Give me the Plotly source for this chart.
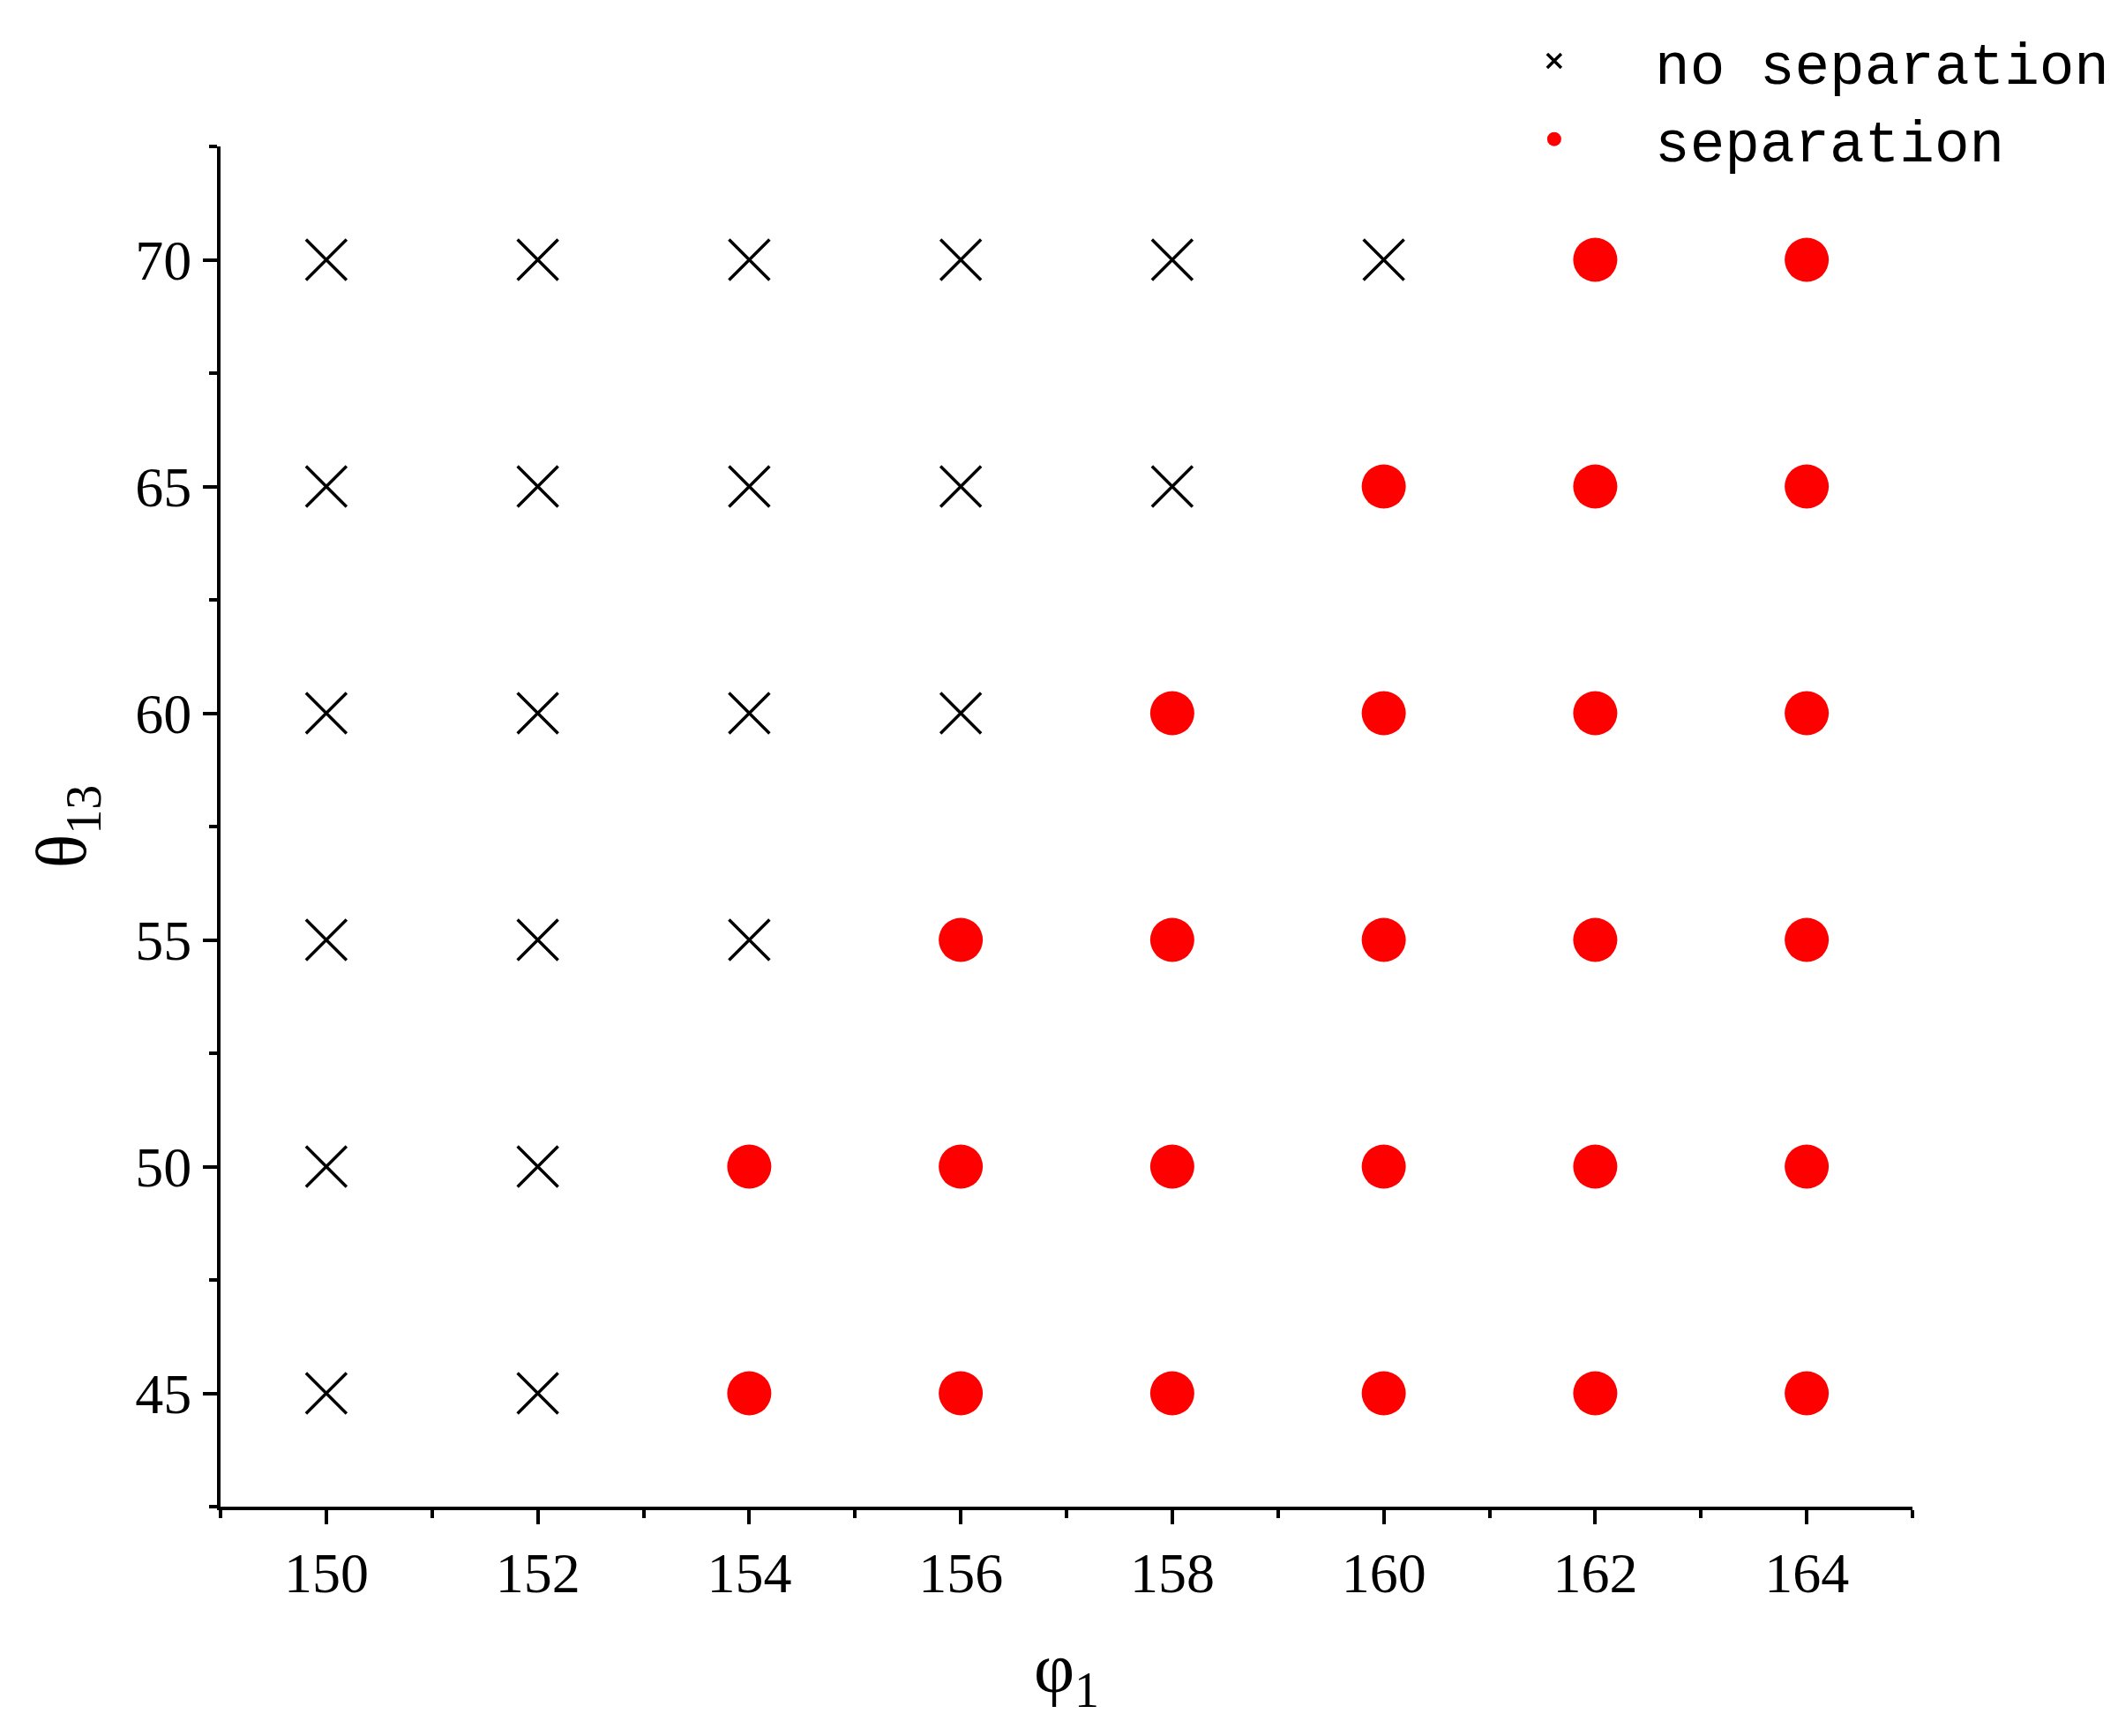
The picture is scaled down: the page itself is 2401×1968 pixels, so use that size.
import plotly.graph_objects as go

phi = [150, 152, 154, 156, 158, 160, 162, 164]
theta = [45, 50, 55, 60, 65, 70]
# smallest phi at which separation occurs, per theta row
first_sep = {45: 154, 50: 154, 55: 156, 60: 158, 65: 160, 70: 162}

nx, ny, sx, sy = [], [], [], []
for t in theta:
    for p in phi:
        if p >= first_sep[t]:
            sx.append(p); sy.append(t)
        else:
            nx.append(p); ny.append(t)

fig = go.Figure()
fig.add_trace(go.Scatter(x=nx, y=ny, mode="markers", name="  no separation",
                         marker=dict(symbol="x-thin-open", size=46, color="black",
                                     line=dict(width=3.5, color="black"))))
fig.add_trace(go.Scatter(x=sx, y=sy, mode="markers", name="  separation",
                         marker=dict(symbol="circle", size=50, color="red")))

axis_common = dict(showline=True, linecolor="black", linewidth=4, ticks="outside",
                   ticklen=16, tickwidth=4, tickcolor="black", showgrid=False,
                   zeroline=False, mirror=False,
                   tickfont=dict(family="Liberation Serif", size=64, color="black"),
                   minor=dict(ticks="outside", ticklen=9, tickwidth=4, tickcolor="black"))

fig.update_xaxes(range=[149, 165], tickvals=phi, minor_dtick=1,
                 title=dict(text="φ<sub>1</sub>", standoff=45,
                            font=dict(family="Liberation Serif", size=80, color="black")),
                 **axis_common)
fig.update_yaxes(range=[42.5, 72.5], tickvals=theta, minor_dtick=2.5,
                 title=dict(text="θ<sub>13</sub>", standoff=30,
                            font=dict(family="Liberation Serif", size=80, color="black")),
                 **axis_common)

fig.update_layout(width=2401, height=1968, plot_bgcolor="white", paper_bgcolor="white",
                  margin=dict(l=242, r=224, t=142, b=268),
                  legend=dict(x=0.77, y=1.095, xanchor="left", yanchor="top",
                              font=dict(family="Liberation Mono", size=66, color="black"),
                              bgcolor="rgba(0,0,0,0)", itemsizing="trace",
                              itemwidth=60, tracegroupgap=0))

fig.write_html("out.html")
